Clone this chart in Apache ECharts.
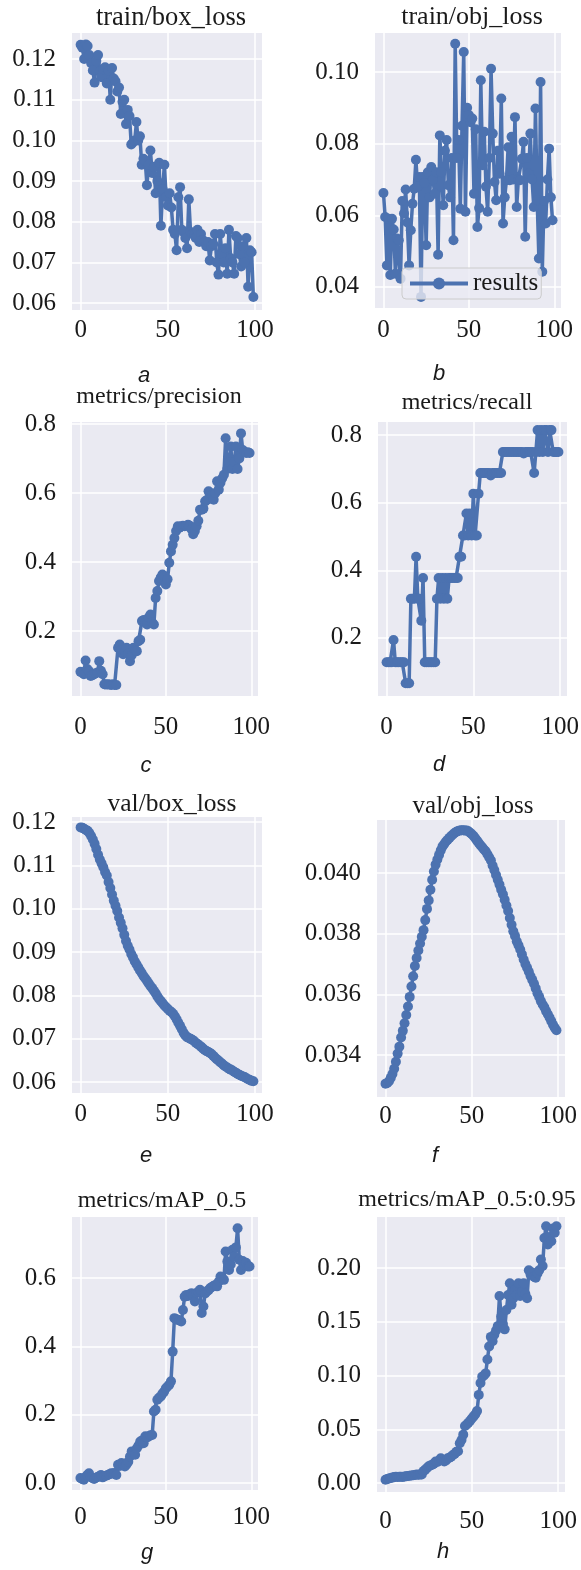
<!DOCTYPE html>
<html>
<head>
<meta charset="utf-8">
<title>results</title>
<script src="https://cdn.jsdelivr.net/npm/echarts@6/dist/echarts.min.js"></script>
<style>
html,body{margin:0;padding:0;background:#fff;}
#main{width:581px;height:1570px;}
</style>
</head>
<body>
<div id="main"></div>
<script>
// values, one per epoch (0..99)
var trainBoxLoss = [
  0.1235,0.1228,0.1200,0.1236,0.1232,0.1210,0.1190,0.1172,0.1142,0.1195,
  0.1210,0.1170,0.1155,0.1175,0.1180,0.1140,0.1172,0.1100,0.1178,0.1152,
  0.1145,0.1120,0.1130,0.1065,0.1095,0.1100,0.1040,0.1075,0.1060,0.0990,
  0.0995,0.1000,0.1045,0.1000,0.1010,0.0940,0.0955,0.0950,0.0890,0.0940,
  0.0975,0.0920,0.0935,0.0870,0.0900,0.0945,0.0790,0.0880,0.0940,0.0860,
  0.0840,0.0870,0.0835,0.0780,0.0770,0.0730,0.0860,0.0885,0.0780,0.0775,
  0.0760,0.0735,0.0855,0.0775,0.0770,0.0770,0.0760,0.0780,0.0750,0.0770,
  0.0755,0.0750,0.0740,0.0750,0.0705,0.0740,0.0745,0.0770,0.0700,0.0670,
  0.0770,0.0720,0.0700,0.0735,0.0672,0.0780,0.0710,0.0700,0.0672,0.0765,
  0.0760,0.0720,0.0690,0.0740,0.0700,0.0760,0.0640,0.0730,0.0725,0.0615
];
var trainObjLoss = [
  0.0662,0.0595,0.0460,0.0590,0.0433,0.0590,0.0560,0.0437,0.0535,0.0530,
  0.0423,0.0640,0.0605,0.0672,0.0580,0.0460,0.0558,0.0632,0.0674,0.0755,
  0.0680,0.0707,0.0372,0.0707,0.0690,0.0516,0.0720,0.0650,0.0735,0.0700,
  0.0660,0.0720,0.0490,0.0823,0.0720,0.0628,0.0780,0.0810,0.0684,0.0650,
  0.0760,0.0530,0.1079,0.0760,0.0810,0.0618,0.0850,0.1056,0.0610,0.0900,
  0.0880,0.0860,0.0870,0.0660,0.0840,0.0567,0.0620,0.0977,0.0740,0.0833,
  0.0680,0.0610,0.0760,0.1009,0.0828,0.0693,0.0642,0.0780,0.0716,0.0926,
  0.0577,0.0650,0.0698,0.0790,0.0698,0.0819,0.0700,0.0874,0.0623,0.0700,
  0.0698,0.0758,0.0805,0.0540,0.0760,0.0716,0.0828,0.0700,0.0623,0.0898,
  0.0642,0.0479,0.0972,0.0442,0.0640,0.0577,0.0700,0.0786,0.0650,0.0586
];
var precision = [
  0.082,0.080,0.075,0.115,0.090,0.084,0.070,0.072,0.075,0.078,
  0.080,0.113,0.085,0.075,0.046,0.045,0.046,0.045,0.044,0.046,
  0.044,0.044,0.152,0.161,0.145,0.133,0.140,0.152,0.135,0.113,
  0.130,0.152,0.145,0.142,0.171,0.175,0.229,0.232,0.225,0.219,
  0.240,0.248,0.225,0.219,0.296,0.316,0.345,0.355,0.364,0.360,
  0.335,0.350,0.398,0.431,0.450,0.470,0.490,0.504,0.500,0.504,
  0.505,0.504,0.505,0.508,0.505,0.495,0.481,0.490,0.504,0.520,
  0.552,0.552,0.555,0.576,0.580,0.605,0.600,0.595,0.581,0.600,
  0.634,0.610,0.630,0.643,0.653,0.759,0.670,0.690,0.735,0.670,
  0.690,0.735,0.670,0.700,0.773,0.725,0.720,0.716,0.718,0.716
];
var recall = [
  0.128,0.128,0.128,0.128,0.194,0.128,0.128,0.128,0.128,0.128,
  0.128,0.066,0.066,0.066,0.316,0.316,0.316,0.440,0.316,0.316,
  0.251,0.377,0.128,0.128,0.128,0.128,0.128,0.128,0.128,0.316,
  0.377,0.316,0.377,0.316,0.377,0.316,0.377,0.377,0.377,0.377,
  0.377,0.377,0.440,0.440,0.503,0.503,0.568,0.503,0.568,0.503,
  0.627,0.503,0.503,0.627,0.688,0.688,0.688,0.688,0.688,0.688,
  0.681,0.688,0.688,0.688,0.688,0.688,0.688,0.750,0.750,0.750,
  0.750,0.750,0.750,0.750,0.750,0.750,0.750,0.750,0.750,0.746,
  0.750,0.750,0.750,0.750,0.750,0.688,0.750,0.815,0.750,0.815,
  0.750,0.815,0.815,0.750,0.815,0.815,0.750,0.750,0.750,0.750
];
var valBoxLoss = [
  0.1188,0.1187,0.1185,0.1182,0.1180,0.1175,0.1168,0.1160,0.1150,0.1138,
  0.1125,0.1114,0.1105,0.1096,0.1085,0.1077,0.1062,0.1048,0.1033,0.1019,
  0.1007,0.0995,0.0980,0.0968,0.0955,0.0940,0.0926,0.0915,0.0906,0.0896,
  0.0888,0.0879,0.0872,0.0865,0.0858,0.0852,0.0845,0.0840,0.0834,0.0828,
  0.0822,0.0817,0.0811,0.0805,0.0798,0.0792,0.0787,0.0782,0.0777,0.0773,
  0.0769,0.0765,0.0762,0.0758,0.0752,0.0745,0.0737,0.0730,0.0722,0.0714,
  0.0708,0.0704,0.0702,0.0700,0.0698,0.0695,0.0691,0.0688,0.0685,0.0682,
  0.0678,0.0675,0.0672,0.0670,0.0668,0.0665,0.0661,0.0657,0.0653,0.0650,
  0.0646,0.0643,0.0639,0.0636,0.0634,0.0631,0.0629,0.0627,0.0624,0.0622,
  0.0619,0.0617,0.0615,0.0613,0.0612,0.0609,0.0607,0.0605,0.0603,0.0602
];
var valObjLoss = [
  0.03306,0.03308,0.03314,0.03325,0.03338,0.03355,0.03378,0.03405,0.03428,0.03458,
  0.03480,0.03505,0.03532,0.03560,0.03592,0.03626,0.03660,0.03694,0.03720,0.03745,
  0.03768,0.03790,0.03812,0.03845,0.03882,0.03910,0.03945,0.03978,0.04005,0.04028,
  0.04045,0.04060,0.04075,0.04088,0.04096,0.04104,0.04110,0.04116,0.04122,0.04127,
  0.04132,0.04136,0.04139,0.04140,0.04141,0.04141,0.04140,0.04140,0.04138,0.04133,
  0.04128,0.04122,0.04115,0.04107,0.04099,0.04092,0.04085,0.04078,0.04072,0.04062,
  0.04052,0.04042,0.04025,0.04010,0.03994,0.03978,0.03962,0.03945,0.03930,0.03912,
  0.03893,0.03875,0.03852,0.03830,0.03808,0.03793,0.03775,0.03762,0.03748,0.03732,
  0.03715,0.03700,0.03688,0.03675,0.03660,0.03648,0.03635,0.03620,0.03604,0.03592,
  0.03578,0.03567,0.03558,0.03545,0.03535,0.03524,0.03512,0.03500,0.03490,0.03482
];
var map50 = [
  0.015,0.012,0.010,0.018,0.024,0.029,0.018,0.015,0.012,0.016,
  0.018,0.020,0.024,0.017,0.020,0.022,0.024,0.026,0.029,0.028,
  0.030,0.024,0.054,0.050,0.059,0.055,0.049,0.055,0.063,0.078,
  0.093,0.090,0.083,0.102,0.110,0.122,0.125,0.117,0.137,0.134,
  0.137,0.140,0.141,0.210,0.215,0.244,0.250,0.254,0.262,0.268,
  0.278,0.283,0.288,0.298,0.385,0.483,0.480,0.478,0.476,0.473,
  0.507,0.546,0.551,0.548,0.553,0.556,0.550,0.532,0.556,0.560,
  0.566,0.498,0.517,0.555,0.561,0.565,0.571,0.574,0.578,0.580,
  0.576,0.590,0.605,0.600,0.595,0.678,0.649,0.624,0.640,0.683,
  0.663,0.690,0.746,0.654,0.624,0.650,0.639,0.645,0.634,0.634
];
var map5095 = [
  0.0030,0.0038,0.0042,0.0047,0.0050,0.0055,0.0058,0.0056,0.0057,0.0058,
  0.0056,0.0060,0.0063,0.0066,0.0068,0.0070,0.0072,0.0075,0.0078,0.0076,
  0.0078,0.0080,0.0110,0.0124,0.0140,0.0155,0.0162,0.0170,0.0180,0.0200,
  0.0195,0.0210,0.0230,0.0215,0.0200,0.0210,0.0230,0.0235,0.0245,0.0260,
  0.0270,0.0290,0.0295,0.0370,0.0400,0.0450,0.0530,0.0545,0.0560,0.0580,
  0.0600,0.0620,0.0640,0.0670,0.0820,0.0930,0.0990,0.1000,0.1020,0.1150,
  0.1270,0.1360,0.1320,0.1380,0.1420,0.1460,0.1740,0.1550,0.1480,0.1430,
  0.1610,0.1750,0.1860,0.1660,0.1720,0.1800,0.1750,0.1860,0.1740,0.1780,
  0.1860,0.1760,0.1720,0.1980,0.1940,0.1960,0.1920,0.1910,0.1950,0.1980,
  0.2080,0.2020,0.2280,0.2390,0.2220,0.2290,0.2250,0.2370,0.2330,0.2390
];

// tick labels
var xTicks = [0, 50, 100];
var boxTicks = [0.06, 0.07, 0.08, 0.09, 0.10, 0.11, 0.12];
var objTicks = [0.04, 0.06, 0.08, 0.10];
var rateTicks = [0.2, 0.4, 0.6, 0.8];
var valObjTicks = [0.034, 0.036, 0.038, 0.040];
var mapTicks = [0.0, 0.2, 0.4, 0.6];
var map95Ticks = [0.00, 0.05, 0.10, 0.15, 0.20];

// layout of the 8 panels (ts = title font size)
var panels = [
  {name:'train/box_loss', cap:'a', data:trainBoxLoss, ticks:boxTicks, dec:2, ymin:0.0583, ymax:0.1264,
   left:72, top:33, w:190, h:277, tx:171, ty:18, ts:26.5, cx:144, cy:376, xm:8},
  {name:'train/obj_loss', cap:'b', data:trainObjLoss, ticks:objTicks, dec:2, ymin:0.0341, ymax:0.1109,
   left:375, top:33, w:186, h:275, tx:472, ty:17, ts:26, cx:439, cy:374, xm:10},
  {name:'metrics/precision', cap:'c', data:precision, ticks:rateTicks, dec:1, ymin:0.012, ymax:0.806,
   left:72, top:422, w:186, h:274, tx:159, ty:397, ts:24, cx:146, cy:766, xm:19},
  {name:'metrics/recall', cap:'d', data:recall, ticks:rateTicks, dec:1, ymin:0.028, ymax:0.839,
   left:378, top:422, w:189, h:274, tx:467, ty:403, ts:24, cx:439, cy:765, xm:19},
  {name:'val/box_loss', cap:'e', data:valBoxLoss, ticks:boxTicks, dec:2, ymin:0.0575, ymax:0.1212,
   left:72, top:817, w:190, h:276, tx:172, ty:804, ts:25.5, cx:146, cy:1156, xm:9},
  {name:'val/obj_loss', cap:'f', data:valObjLoss, ticks:valObjTicks, dec:3, ymin:0.03262, ymax:0.04175,
   left:377, top:820, w:188, h:277, tx:473, ty:806, ts:25, cx:435, cy:1156, xm:7},
  {name:'metrics/mAP_0.5', cap:'g', data:map50, ticks:mapTicks, dec:1, ymin:-0.02, ymax:0.779,
   left:72, top:1217, w:186, h:273, tx:162, ty:1201, ts:24, cx:147, cy:1553, xm:15},
  {name:'metrics/mAP_0.5:0.95', cap:'h', data:map5095, ticks:map95Ticks, dec:2, ymin:-0.0084, ymax:0.2476,
   left:377, top:1217, w:188, h:275, tx:467, ty:1200, ts:24, cx:443, cy:1552, xm:17}
];

var blue = '#4C72B0';
var serif = 'Liberation Serif, Times New Roman, serif';

var grids = [], xAxes = [], yAxes = [], series = [], graphics = [];
panels.forEach(function (p, i) {
  grids.push({
    left: p.left, top: p.top, width: p.w, height: p.h,
    show: true, backgroundColor: '#EAEAF2', borderWidth: 0,
    containLabel: false, outerBoundsMode: 'none'
  });
  xAxes.push({
    type: 'value', gridIndex: i, min: -4.95, max: 103.95,
    axisLine: {show: false},
    axisTick: {show: false, customValues: xTicks},
    axisLabel: {customValues: xTicks, margin: p.xm, fontFamily: serif, fontSize: 25, color: '#1a1a1a'},
    splitLine: {show: true, lineStyle: {color: '#ffffff', width: 1.5}}
  });
  yAxes.push({
    type: 'value', gridIndex: i, min: p.ymin, max: p.ymax,
    axisLine: {show: false},
    axisTick: {show: false, customValues: p.ticks},
    axisLabel: {
      customValues: p.ticks, margin: 16, fontFamily: serif, fontSize: 25, color: '#1a1a1a',
      formatter: (function (d) { return function (v) { return v.toFixed(d); }; })(p.dec)
    },
    splitLine: {show: true, lineStyle: {color: '#ffffff', width: 1.5}}
  });
  series.push({
    name: 'results', type: 'line', xAxisIndex: i, yAxisIndex: i,
    data: p.data.map(function (v, k) { return [k, v]; }),
    symbol: 'circle', symbolSize: 10, showAllSymbol: true,
    lineStyle: {color: blue, width: 3.5},
    itemStyle: {color: blue},
    emphasis: {disabled: true}
  });
  graphics.push({
    type: 'text', x: p.tx, y: p.ty, silent: true,
    style: {text: p.name, font: p.ts + 'px ' + serif, fill: '#1a1a1a', align: 'center', verticalAlign: 'middle'}
  });
  graphics.push({
    type: 'text', x: p.cx, y: p.cy, silent: true,
    style: {text: p.cap, font: 'italic 22px Liberation Sans, Arial, sans-serif', fill: '#1a1a1a', align: 'center', verticalAlign: 'middle'}
  });
});

var chart = echarts.init(document.getElementById('main'), null, {renderer: 'canvas'});
chart.setOption({
  animation: false,
  backgroundColor: '#ffffff',
  grid: grids,
  xAxis: xAxes,
  yAxis: yAxes,
  series: series,
  graphic: graphics,
  legend: {
    data: ['results'],
    left: 402, top: 268,
    itemWidth: 58, itemHeight: 15, itemGap: 6,
    padding: [3, 3, 3, 6],
    backgroundColor: 'rgba(234,234,242,0.8)',
    borderColor: '#cccccc', borderWidth: 1, borderRadius: 4,
    lineStyle: {width: 4, color: blue},
    itemStyle: {color: blue},
    textStyle: {fontFamily: serif, fontSize: 25, color: '#1a1a1a'},
    selectedMode: false
  }
});
</script>
</body>
</html>
